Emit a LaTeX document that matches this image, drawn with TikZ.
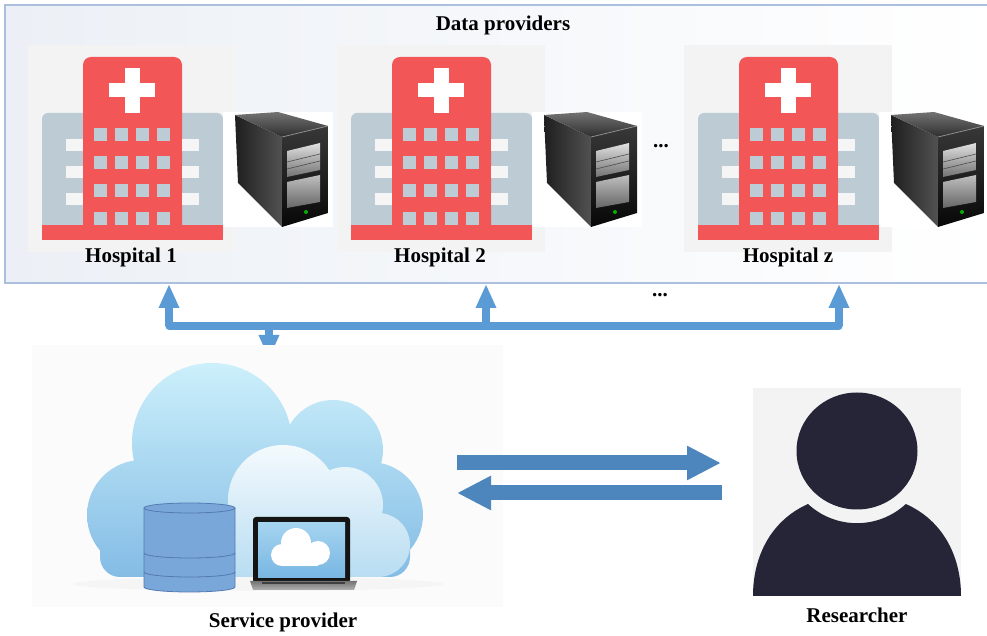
\documentclass[tikz,border=0pt]{standalone}
\usepackage{fontspec}
\setmainfont{Liberation Serif}
\usetikzlibrary{arrows.meta}

\definecolor{hred}{RGB}{242,86,86}
\definecolor{hgray}{RGB}{189,203,212}
\definecolor{hwin}{RGB}{245,245,245}
\definecolor{panelgray}{RGB}{243,243,243}
\definecolor{busblue}{RGB}{91,155,213}
\definecolor{flowblue}{RGB}{76,134,189}
\definecolor{boxline}{RGB}{170,192,222}
\definecolor{boxtint}{RGB}{236,240,246}
\definecolor{cloudtop}{RGB}{204,240,251}
\definecolor{cloudbot}{RGB}{132,188,229}
\definecolor{fronttop}{RGB}{244,250,253}
\definecolor{frontbot}{RGB}{184,221,242}
\definecolor{dbfill}{RGB}{122,167,218}
\definecolor{dbline}{RGB}{84,122,178}
\definecolor{screentop}{RGB}{165,212,240}
\definecolor{screenbot}{RGB}{120,182,226}
\definecolor{person}{RGB}{38,37,56}

\tikzset{
  lbl/.style={font=\fontsize{10.5}{12}\selectfont\bfseries, inner sep=0pt},
  bus/.style={draw=busblue, line width=3.6pt},
  bustip/.style={-{Triangle[width=9.5pt,length=12pt]}},
  flow/.style={draw=flowblue, line width=7.5pt, -{Triangle[width=16pt,length=17pt]}},
  hospital/.pic={
    \fill[panelgray] (0,0) rectangle (208,207);
    % side wings
    \fill[hgray, rounded corners=3pt] (14,195) -- (14,68) -- (195,68) -- (195,195) -- cycle;
    \fill[hred] (14,180) rectangle (195,195);
    % central tower
    \fill[hred, rounded corners=4pt] (55,190) -- (55,12) -- (154,12) -- (154,190) -- cycle;
    % cross
    \fill[white] (81,38) rectangle (127,52);
    \fill[white] (97,23) rectangle (112,68);
    % tower windows
    \foreach \cx in {66,87,108,129}
      \foreach \cy in {83,111,139,167}
        \fill[hgray] (\cx,\cy) rectangle ++(13,13);
    % wing windows
    \foreach \cy in {94,121,148} {
      \fill[hwin] (38,\cy) rectangle (55,\cy+12);
      \fill[hwin] (154,\cy) rectangle (171,\cy+12);
    }
  },
  server/.pic={
    \fill[white] (0,0) rectangle (110,115);
    % left side face
    \shade[left color=black!88, right color=black!68] (12,3) -- (59,25) -- (59,115) -- (15,71) -- cycle;
    % top face
    \shade[top color=black!55, bottom color=black!82] (12,3) -- (55,0) -- (105,14) -- (59,25) -- cycle;
    % front face
    \shade[top color=black!78, bottom color=black!97] (59,25) -- (105,14) -- (105,101) -- (59,115) -- cycle;
    \draw[black!45, line width=0.4pt] (59,25) -- (105,14);
    % drive bays
    \shade[top color=black!12, bottom color=black!55] (64,39) -- (97,31) -- (97,58) -- (64,65) -- cycle;
    \shade[top color=black!25, bottom color=black!60] (64,70) -- (97,63) -- (97,90) -- (64,96) -- cycle;
    \draw[black!70, line width=0.3pt] (64,50) -- (97,42) (64,57) -- (97,49);
    % power led
    \fill[green!70!black] (83,100) circle[radius=2];
  }
}

\begin{document}
\begin{tikzpicture}[x=0.5pt, y=-0.5pt]
\useasboundingbox (0,0) rectangle (987,636);
\fill[white] (0,0) rectangle (987,636);

% data providers frame
\shade[left color=boxtint, right color=white] (5,5) rectangle (992,283);
\draw[boxline, line width=0.7pt] (992,5) -- (5,5) -- (5,283) -- (992,283);
\node[lbl] (dptitle) at (503,25) {Data providers};
\coordinate (dpbottom) at (5,284);

% hospitals with their servers
\pic (hosp1) at (28,45) {hospital};
\pic (srv1) at (223,112) {server};
\node[lbl] (h1) at (131,257) {Hospital 1};

\pic (hosp2) at (337,45) {hospital};
\pic (srv2) at (532,112) {server};
\node[lbl] (h2) at (440,257) {Hospital 2};

\pic (hospz) at (684,45) {hospital};
\pic (srvz) at (879,112) {server};
\node[lbl] (hz) at (788,257) {Hospital z};

\node[lbl] (dotsA) at (661,146) {...};
\node[lbl] (dotsB) at (660,295) {...};

% shared link between providers and the service provider
\coordinate (j1) at (169,326);
\coordinate (j2) at (486,326);
\coordinate (jz) at (839,326);
\coordinate (js) at (269,326);
\draw[bus, line cap=round] (j1) -- (jz);
\draw[bus, bustip] (j1) -- (j1 |- dpbottom);
\draw[bus, bustip] (j2) -- (j2 |- dpbottom);
\draw[bus, bustip] (jz) -- (jz |- dpbottom);
\coordinate (sptop) at (269,359);
\draw[bus, bustip] (js) -- (sptop);

% service provider
\fill[black!1.5] (32,345) rectangle (503,607);
\fill[black!6, opacity=0.5] (258,584) ellipse[x radius=185, y radius=7];
\shade[top color=cloudtop, bottom color=cloudbot]
  (142,515) circle[radius=55]
  (212,443) circle[radius=80]
  (333,450) circle[radius=50]
  (370,515) circle[radius=53]
  (100,577) [rounded corners=10pt] rectangle (410,500);
\shade[top color=fronttop, bottom color=frontbot]
  (283,500) circle[radius=55]
  (345,505) circle[radius=38]
  (378,545) circle[radius=32]
  (228,577) rectangle (380,500);
% database
\filldraw[fill=dbfill, draw=dbline, line width=0.4pt]
  (144,508) -- (144,587) arc[start angle=180, end angle=0, x radius=45.5, y radius=5]
  -- (235,508) arc[start angle=0, end angle=-180, x radius=45.5, y radius=5] -- cycle;
\draw[dbline, line width=0.4pt] (144,508) arc[start angle=180, end angle=0, x radius=45.5, y radius=5];
\draw[dbline, line width=0.4pt] (144,553) arc[start angle=180, end angle=0, x radius=45.5, y radius=5];
\draw[dbline, line width=0.4pt] (144,572) arc[start angle=180, end angle=0, x radius=45.5, y radius=5];
% laptop
\fill[black!92, rounded corners=1.5pt] (253,517) rectangle (350,583);
\shade[top color=screentop, bottom color=screenbot] (258,523) rectangle (345,578);
\fill[white] (282,555) circle[radius=11] (296,543) circle[radius=15] (318,553) circle[radius=12]
  (282,566) rectangle (318,548);
\shade[top color=black!55, bottom color=black!30] (250,581) -- (357,581) -- (354,590) -- (253,590) -- cycle;
\fill[black!75] (262,582) rectangle (345,584);
\node[lbl] (sp) at (283,622) {Service provider};

% requests and answers
\coordinate (reqA) at (457,463);
\coordinate (reqB) at (721,463);
\coordinate (ansA) at (722,493);
\coordinate (ansB) at (457,493);
\draw[flow] (reqA) -- (reqB);
\draw[flow] (ansA) -- (ansB);

% researcher
\fill[panelgray] (753,388) rectangle (961,596);
\fill[person] (857,451) ellipse[x radius=60.5, y radius=58.5];
\fill[person] (753,596) .. controls (753,555) and (772,520) .. (808,504)
  arc[start angle=132.8, end angle=47.2, radius=72]
  .. controls (942,520) and (961,555) .. (961,596) -- cycle;
\node[lbl] (rs) at (857,615) {Researcher};
\end{tikzpicture}
\end{document}
